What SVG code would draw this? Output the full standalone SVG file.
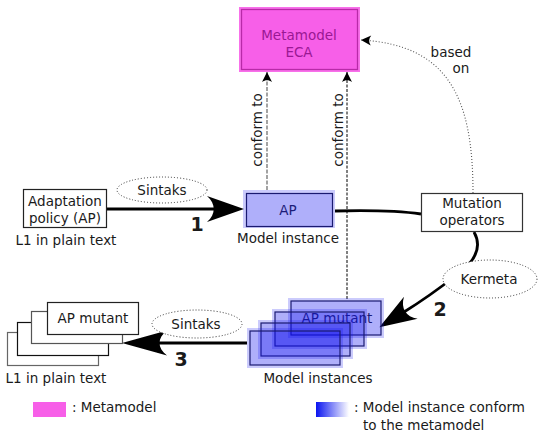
<svg xmlns="http://www.w3.org/2000/svg" width="538" height="432" viewBox="0 0 538 432">
<style>
text{font-family:"DejaVu Sans","Liberation Sans",sans-serif;font-size:13.5px;fill:#1a1a1a}
.mid{text-anchor:middle}
.num{font-weight:bold;font-size:19px}
.plain{fill:#fff;stroke:#222;stroke-width:1.2}
.glowB{fill:#1414f0;fill-opacity:0.22}
.inB{fill:#1414f0;fill-opacity:0.15;stroke:#1a1a70;stroke-width:1.2}
.navy{fill:#1c1c78}
.oval{fill:#fff;stroke:#333;stroke-width:1;stroke-dasharray:1,2}
.thick{fill:none;stroke:#000;stroke-width:2.8}
</style>
<defs>
<marker id="bigA" markerUnits="userSpaceOnUse" markerWidth="40" markerHeight="30" viewBox="0 -15 40 30" refX="8" refY="0" orient="auto" overflow="visible">
<path d="M37,0 L0,-13 C9,-5 9,5 0,13 Z" fill="#000"/>
</marker>
<marker id="bigB" markerUnits="userSpaceOnUse" markerWidth="48" markerHeight="30" viewBox="0 -15 48 30" refX="9" refY="0" orient="auto" overflow="visible">
<path d="M45,0 L0,-12.5 C10,-5 10,5 0,12.5 Z" fill="#000"/>
</marker>
<marker id="smallA" markerUnits="userSpaceOnUse" markerWidth="12" markerHeight="12" viewBox="-11 -6 12 12" refX="0" refY="0" orient="auto" overflow="visible">
<path d="M0,0 L-10,-5 C-7.5,-1.5 -7.5,1.5 -10,5 Z" fill="#000"/>
</marker>
<linearGradient id="grad" x1="0" y1="0" x2="1" y2="0">
<stop offset="0" stop-color="#0a14f0"/>
<stop offset="1" stop-color="#ffffff"/>
</linearGradient>
</defs>

<g id="connectors">
<path d="M267,190 L267,72" fill="none" stroke="#666" stroke-width="1.2" stroke-dasharray="4,1.5" marker-end="url(#smallA)"/>
<path d="M347,299 L347,72" fill="none" stroke="#000" stroke-width="1" stroke-dasharray="3,1.5" marker-end="url(#smallA)"/>
<path d="M473,193 C473,100 450,45 361,40" fill="none" stroke="#555" stroke-width="1.1" stroke-dasharray="1,2" marker-end="url(#smallA)"/>
<path d="M107,209 L215,209" class="thick" marker-end="url(#bigA)"/>
<path d="M335,211 C375,210 400,211 421,214" class="thick" stroke-width="2.5"/>
<path d="M474,232 C483,248 474,262 458,274 C440,288 425,299 404,312" class="thick" stroke-width="2.5" marker-end="url(#bigA)"/>
<path d="M247,343 L158,343" class="thick" marker-end="url(#bigB)"/>
</g>

<g id="metamodel">
<rect x="239" y="7" width="121" height="65" fill="#f870ea"/>
<rect x="241.5" y="9.5" width="116" height="60" fill="#f75fe8" stroke="#b82aa8" stroke-width="1.3"/>
<text x="299" y="40" class="mid" style="fill:#9a1894">Metamodel</text>
<text x="299" y="57" class="mid" style="fill:#9a1894">ECA</text>
</g>

<g id="conform-left">
<text transform="translate(262,130) rotate(-90)" class="mid">conform to</text>
</g>
<g id="conform-right">
<text transform="translate(343,130) rotate(-90)" class="mid">conform to</text>
</g>
<g id="based-on">
<text x="451" y="57" class="mid">based</text>
<text x="461" y="73" class="mid">on</text>
</g>

<g id="adaptation-policy">
<rect x="23.5" y="189.5" width="83" height="38" class="plain"/>
<text x="65" y="206" class="mid">Adaptation</text>
<text x="65" y="223" class="mid">policy (AP)</text>
<text x="66" y="245" class="mid">L1 in plain text</text>
</g>

<g id="sintaks-top">
<ellipse cx="162" cy="190" rx="45" ry="13" class="oval"/>
<text x="162" y="195" class="mid">Sintaks</text>
</g>
<text x="197" y="231" class="mid num">1</text>

<g id="ap-model">
<rect x="243" y="190" width="92" height="38" class="glowB"/>
<rect x="246.5" y="193.5" width="86" height="33" class="inB"/>
<text x="288" y="215" class="mid navy">AP</text>
<text x="288" y="243" class="mid">Model instance</text>
</g>

<g id="mutation-operators">
<rect x="421.5" y="193.5" width="101" height="38" fill="#fff" stroke="#333" stroke-width="1.2"/>
<text x="472" y="208" class="mid">Mutation</text>
<text x="472" y="225" class="mid">operators</text>
</g>

<g id="kermeta">
<ellipse cx="490" cy="279" rx="47" ry="19" class="oval"/>
<text x="489" y="284" class="mid">Kermeta</text>
</g>
<text x="440" y="316" class="mid num">2</text>

<g id="ap-mutant-models">
<rect x="288" y="298" width="96" height="40" class="glowB"/>
<rect x="291" y="301" width="90" height="34" class="inB"/>
<text x="337" y="323" class="mid navy">AP mutant</text>
<rect x="272" y="309" width="95" height="40" class="glowB"/>
<rect x="275" y="312" width="89" height="34" class="inB"/>
<rect x="258" y="320" width="95" height="39" class="glowB"/>
<rect x="261" y="323" width="89" height="33" class="inB"/>
<rect x="247" y="328" width="96" height="40" class="glowB"/>
<rect x="250" y="331" width="90" height="34" class="inB"/>
<text x="318" y="383" class="mid">Model instances</text>
</g>

<g id="sintaks-bottom">
<ellipse cx="197" cy="324" rx="45" ry="14" class="oval"/>
<text x="196" y="329" class="mid">Sintaks</text>
</g>
<text x="181" y="366" class="mid num">3</text>

<g id="ap-mutant-text">
<rect x="7.5" y="332.5" width="91" height="33" fill="#fff" stroke="#666" stroke-width="1.2"/>
<rect x="17.5" y="322.5" width="91" height="33" fill="#fff" stroke="#111" stroke-width="1.2"/>
<rect x="31.5" y="311.5" width="91" height="32" fill="#fff" stroke="#555" stroke-width="1.2"/>
<rect x="47.5" y="302.5" width="91" height="32" fill="#fff" stroke="#222" stroke-width="1.2"/>
<text x="93" y="323" class="mid">AP mutant</text>
<text x="56" y="383" class="mid">L1 in plain text</text>
</g>

<g id="legend">
<rect x="33" y="402" width="33" height="15" fill="#f75fe8"/>
<text x="72" y="412">: Metamodel</text>
<rect x="316" y="402" width="33" height="15" fill="url(#grad)"/>
<text x="354" y="412">: Model instance conform</text>
<text x="363" y="430">to the metamodel</text>
</g>
</svg>
